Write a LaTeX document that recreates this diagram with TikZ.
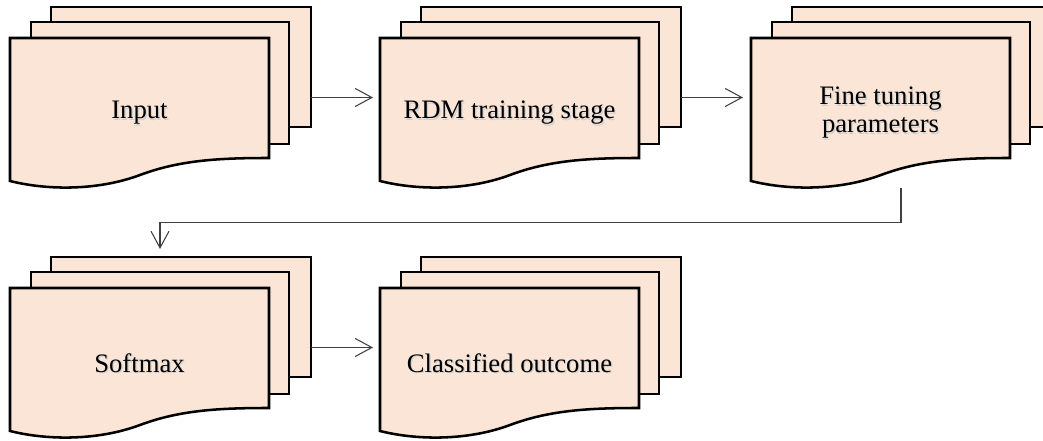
\documentclass[tikz,border=0pt]{standalone}
\usepackage{fontspec}
\setmainfont{Liberation Serif}
\usetikzlibrary{arrows.meta}

\definecolor{sheetfill}{HTML}{FBE5D6}
\definecolor{linkgray}{HTML}{404040}

\tikzset{
  sheet/.style={draw=black, line width=1.9pt, fill=sheetfill, line join=miter},
  backsheet/.style={sheet, rectangle, inner sep=0pt, outer sep=0pt,
    minimum width=195pt, minimum height=90pt, anchor=north west},
  midsheet/.style={sheet, rectangle, inner sep=0pt, outer sep=0pt,
    minimum width=193.5pt, minimum height=91.5pt, anchor=north west},
  frontframe/.style={rectangle, draw=none, inner sep=0pt, outer sep=0pt,
    minimum width=194.25pt, minimum height=89.25pt, anchor=north west},
  doctext/.style={align=center, inner sep=0pt,
    font=\fontsize{20pt}{21pt}\selectfont},
  textshade/.style={doctext, text=black!18},
  link/.style={draw=linkgray, line width=0.8pt,
    -{Straight Barb[length=12.5pt,width=13.5pt]}},
}

% A stack of three document sheets; #1 name, (#2,#3) top-left of the front sheet
\newcommand\docstack[4]{%
  \begin{scope}[shift={(#2,#3)}]
    \node[backsheet] (#1-back) at (41,-31) {};
    \node[midsheet] (#1-mid) at (21,-16) {};
    \path[sheet] (0,143) -- (0,0) -- (259,0) -- (259,120)
      .. controls (210,120) and (170,122) .. (130,137)
      .. controls (90,152) and (40,153) .. cycle;
    \node[frontframe] (#1) at (0,0) {};
    \node[textshade] at (130.8,76.3) {#4};
    \node[doctext] (#1-text) at (129.5,75) {#4};
  \end{scope}}

\begin{document}
\begin{tikzpicture}[x=0.75pt, y=-0.75pt]
  \clip (0,0) rectangle (1043,441);

  \docstack{in}{10}{38}{Input}
  \docstack{rdm}{380}{38}{RDM training stage}
  \docstack{ft}{751}{38}{Fine tuning\\parameters}
  \docstack{sm}{10}{288}{Softmax}
  \docstack{co}{380}{288}{Classified outcome}

  \coordinate (turn) at (0,222.7);

  \draw[link, shorten >=5.25pt] (in.east -| in-back.east) -- (rdm.west);
  \draw[link, shorten >=6pt] (rdm.east -| rdm-back.east) -- (ft.west);
  \draw[link, shorten <=33pt, shorten >=17.25pt]
    (ft-mid.south) -- (ft-mid.south |- turn) -| (sm-mid.north);
  \draw[link, shorten >=5.25pt] (sm.east -| sm-back.east) -- (co.west);
\end{tikzpicture}
\end{document}
